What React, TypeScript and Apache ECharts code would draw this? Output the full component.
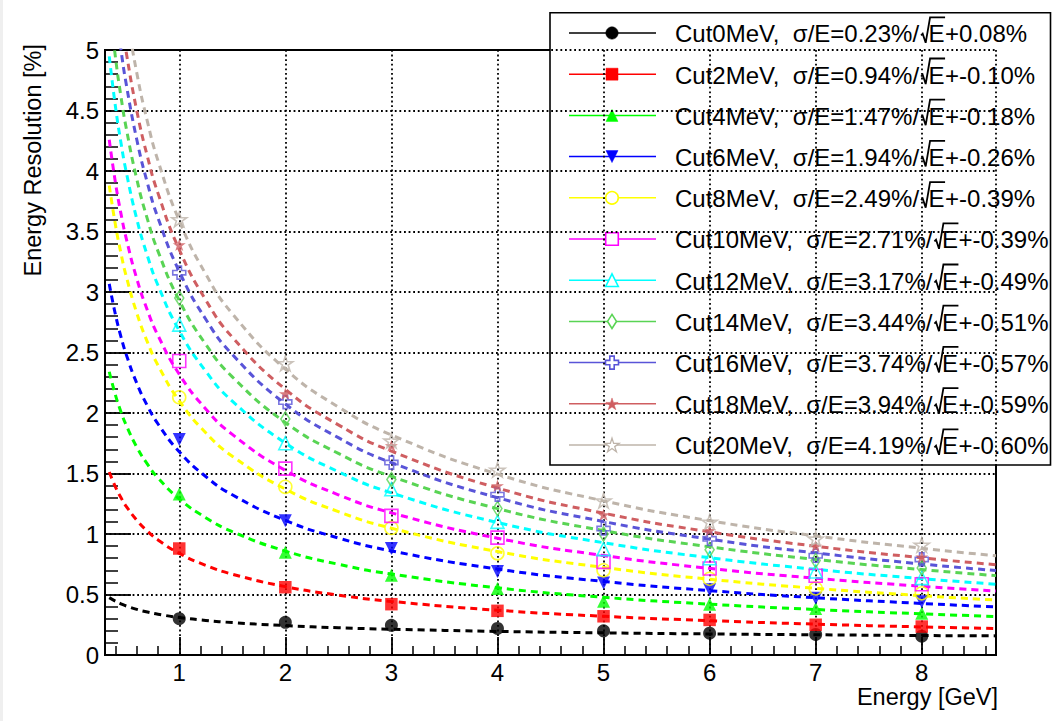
import React, { useEffect, useRef } from 'react';
import * as echarts from 'echarts';

const FONT = '"Liberation Sans", Arial, Helvetica, sans-serif';

// ---- data ----
const energies = [1, 2, 3, 4, 5, 6, 7, 8];
const cutNames = ['Cut0MeV', 'Cut2MeV', 'Cut4MeV', 'Cut6MeV', 'Cut8MeV', 'Cut10MeV', 'Cut12MeV', 'Cut14MeV', 'Cut16MeV', 'Cut18MeV', 'Cut20MeV'];
const fitA = ['0.23', '0.94', '1.47', '1.94', '2.49', '2.71', '3.17', '3.44', '3.74', '3.94', '4.19'];
const fitB = ['+0.08', '+-0.10', '+-0.18', '+-0.26', '+-0.39', '+-0.39', '+-0.49', '+-0.51', '+-0.57', '+-0.59', '+-0.60'];

const resCut0 = [0.30, 0.27, 0.245, 0.22, 0.20, 0.18, 0.17, 0.155];
const resCut2 = [0.88, 0.56, 0.42, 0.365, 0.32, 0.29, 0.25, 0.235];
const resCut4 = [1.33, 0.85, 0.66, 0.55, 0.445, 0.42, 0.385, 0.345];
const resCut6 = [1.78, 1.11, 0.88, 0.69, 0.595, 0.54, 0.47, 0.44];
const resCut8 = [2.13, 1.39, 1.05, 0.84, 0.70, 0.63, 0.55, 0.51];
const resCut10 = [2.43, 1.54, 1.15, 0.97, 0.77, 0.715, 0.655, 0.585];
const resCut12 = [2.73, 1.75, 1.37, 1.10, 0.875, 0.80, 0.69, 0.635];
const resCut14 = [2.95, 1.95, 1.45, 1.21, 1.00, 0.87, 0.78, 0.72];
const resCut16 = [3.16, 2.09, 1.59, 1.325, 1.045, 0.96, 0.82, 0.79];
const resCut18 = [3.39, 2.16, 1.73, 1.40, 1.16, 1.03, 0.90, 0.81];
const resCut20 = [3.60, 2.41, 1.77, 1.53, 1.275, 1.10, 0.96, 0.91];

// fit curves
const fitX = [0.34, 0.4, 0.45, 0.5, 0.6, 0.7, 0.8, 1, 1.25, 1.5, 2, 2.5, 3, 4, 5, 6, 7, 8, 8.7];
const fitCut0 = [0.474, 0.444, 0.423, 0.405, 0.377, 0.355, 0.337, 0.310, 0.286, 0.268, 0.243, 0.225, 0.213, 0.195, 0.183, 0.174, 0.167, 0.161, 0.158];
const fitCut2 = [1.512, 1.386, 1.301, 1.229, 1.114, 1.024, 0.951, 0.840, 0.741, 0.668, 0.565, 0.495, 0.443, 0.370, 0.320, 0.284, 0.255, 0.232, 0.219];
const fitCut4 = [2.341, 2.144, 2.011, 1.899, 1.718, 1.577, 1.463, 1.290, 1.135, 1.020, 0.859, 0.750, 0.669, 0.555, 0.477, 0.420, 0.376, 0.340, 0.318];
const fitCut6 = [3.067, 2.807, 2.632, 2.484, 2.245, 2.059, 1.909, 1.680, 1.475, 1.324, 1.112, 0.967, 0.860, 0.710, 0.608, 0.532, 0.473, 0.426, 0.398];
const fitCut8 = [3.880, 3.547, 3.322, 3.131, 2.825, 2.586, 2.394, 2.100, 1.837, 1.643, 1.371, 1.185, 1.048, 0.855, 0.724, 0.626, 0.551, 0.490, 0.454];
const fitCut10 = [4.258, 3.895, 3.650, 3.443, 3.109, 2.849, 2.640, 2.320, 2.034, 1.823, 1.526, 1.324, 1.175, 0.965, 0.822, 0.716, 0.634, 0.568, 0.529];
const fitCut12 = [4.947, 4.522, 4.236, 3.993, 3.602, 3.299, 3.054, 2.680, 2.345, 2.098, 1.752, 1.515, 1.340, 1.095, 0.928, 0.804, 0.708, 0.631, 0.585];
const fitCut14 = [5.390, 4.929, 4.618, 4.355, 3.931, 3.602, 3.336, 2.930, 2.567, 2.299, 1.922, 1.666, 1.476, 1.210, 1.028, 0.894, 0.790, 0.706, 0.656];
const fitCut16 = [5.844, 5.343, 5.005, 4.719, 4.258, 3.900, 3.611, 3.170, 2.775, 2.484, 2.075, 1.796, 1.590, 1.300, 1.103, 0.957, 0.844, 0.752, 0.698];
const fitCut18 = [6.167, 5.640, 5.283, 4.982, 4.497, 4.119, 3.815, 3.350, 2.934, 2.627, 2.196, 1.902, 1.685, 1.380, 1.172, 1.018, 0.899, 0.803, 0.746];
const fitCut20 = [6.586, 6.025, 5.646, 5.326, 4.809, 4.408, 4.084, 3.590, 3.148, 2.821, 2.363, 2.050, 1.819, 1.495, 1.274, 1.110, 0.984, 0.882, 0.820];

const pointSets = [resCut0, resCut2, resCut4, resCut6, resCut8, resCut10, resCut12, resCut14, resCut16, resCut18, resCut20];
const fitSets = [fitCut0, fitCut2, fitCut4, fitCut6, fitCut8, fitCut10, fitCut12, fitCut14, fitCut16, fitCut18, fitCut20];

// ---- styles ----
const seriesColors = ['#000000', '#ff0000', '#00ff00', '#0000ff', '#ffff00', '#ff00ff', '#00ffff', '#59d454', '#5954d8', '#cf5e61', '#beb4aa'];
const markerKinds = ['circle', 'rect', 'triUp', 'triDown', 'circleO', 'rectO', 'triUpO', 'diamondO', 'crossO', 'starF', 'starO'];

const TRI_DOWN = 'path://M0,0L10,0L5,10Z';
const CROSS = 'path://M3.3,0L6.7,0L6.7,3.3L10,3.3L10,6.7L6.7,6.7L6.7,10L3.3,10L3.3,6.7L0,6.7L0,3.3L3.3,3.3Z';
const STAR = 'path://M50,0L61.17,34.63L97.55,34.55L68.07,55.87L79.39,90.45L50,69L20.61,90.45L31.93,55.87L2.45,34.55L38.83,34.63Z';

function symbolFor(kind: string): { symbol: string; size: any; open: boolean } {
  switch (kind) {
    case 'circle': return { symbol: 'circle', size: 13, open: false };
    case 'rect': return { symbol: 'rect', size: 12.5, open: false };
    case 'triUp': return { symbol: 'triangle', size: 13, open: false };
    case 'triDown': return { symbol: TRI_DOWN, size: 13, open: false };
    case 'circleO': return { symbol: 'circle', size: 13, open: true };
    case 'rectO': return { symbol: 'rect', size: 13, open: true };
    case 'triUpO': return { symbol: 'triangle', size: 13, open: true };
    case 'diamondO': return { symbol: 'diamond', size: [9, 14], open: true };
    case 'crossO': return { symbol: CROSS, size: 13, open: true };
    case 'starF': return { symbol: STAR, size: 13, open: false };
    default: return { symbol: STAR, size: 15, open: true };
  }
}

// normalized polygon templates for legend icons
const POLY: Record<string, number[][]> = {
  triUp: [[0, -0.5], [0.5, 0.5], [-0.5, 0.5]],
  triDown: [[-0.5, -0.5], [0.5, -0.5], [0, 0.5]],
  diamond: [[0, -0.5], [0.32, 0], [0, 0.5], [-0.32, 0]],
  cross: [[-0.17, -0.5], [0.17, -0.5], [0.17, -0.17], [0.5, -0.17], [0.5, 0.17], [0.17, 0.17], [0.17, 0.5], [-0.17, 0.5], [-0.17, 0.17], [-0.5, 0.17], [-0.5, -0.17], [-0.17, -0.17]],
  star: [[0, -0.452], [0.112, -0.106], [0.476, -0.107], [0.181, 0.107], [0.294, 0.452], [0, 0.238], [-0.294, 0.452], [-0.181, 0.107], [-0.476, -0.107], [-0.112, -0.106]],
};

function polyAt(name: string, cx: number, cy: number, size: number) {
  return POLY[name].map(([u, v]) => [cx + u * size, cy + v * size]);
}

function legendMarker(kind: string, cx: number, cy: number, c: string): any {
  const filled = { fill: c, stroke: c, lineWidth: 0.5 };
  const open = { fill: '#ffffff', stroke: c, lineWidth: 1.6 };
  switch (kind) {
    case 'circle': return { type: 'circle', shape: { cx, cy, r: 6.2 }, style: filled };
    case 'rect': return { type: 'rect', shape: { x: cx - 6, y: cy - 6, width: 12, height: 12 }, style: filled };
    case 'triUp': return { type: 'polygon', shape: { points: polyAt('triUp', cx, cy, 12) }, style: filled };
    case 'triDown': return { type: 'polygon', shape: { points: polyAt('triDown', cx, cy, 12) }, style: filled };
    case 'circleO': return { type: 'circle', shape: { cx, cy, r: 6.3 }, style: open };
    case 'rectO': return { type: 'rect', shape: { x: cx - 6.3, y: cy - 6.3, width: 12.6, height: 12.6 }, style: open };
    case 'triUpO': return { type: 'polygon', shape: { points: polyAt('triUp', cx, cy, 12.6) }, style: open };
    case 'diamondO': return { type: 'polygon', shape: { points: polyAt('diamond', cx, cy, 14) }, style: open };
    case 'crossO': return { type: 'polygon', shape: { points: polyAt('cross', cx, cy, 13) }, style: open };
    case 'starF': return { type: 'polygon', shape: { points: polyAt('star', cx, cy, 13) }, style: filled };
    default: return { type: 'polygon', shape: { points: polyAt('star', cx, cy, 15) }, style: { fill: '#ffffff', stroke: c, lineWidth: 1.3 } };
  }
}

const LEG_FONT_SIZE = 24;
const LEG_FONT = `${LEG_FONT_SIZE}px ${FONT}`;

function measure(ctx: CanvasRenderingContext2D | null, s: string): number {
  if (!ctx) return s.length * LEG_FONT_SIZE * 0.55;
  return ctx.measureText(s).width;
}

function buildLegend(): any[] {
  const canvas = document.createElement('canvas');
  const ctx = canvas.getContext('2d');
  if (ctx) ctx.font = LEG_FONT;
  const els: any[] = [];
  els.push({
    type: 'rect',
    shape: { x: 550, y: 12.7, width: 500.5, height: 452.3 },
    style: { fill: '#ffffff', stroke: '#000000', lineWidth: 1.6 },
  });
  cutNames.forEach((name, i) => {
    const c = seriesColors[i];
    const cy = 33 + i * 41.2;
    const yc = cy + 0.8;
    els.push({ type: 'line', shape: { x1: 569, y1: cy, x2: 656, y2: cy }, style: { stroke: c, lineWidth: 1.5 } });
    els.push(legendMarker(markerKinds[i], 612, cy, c));
    const prefix = `${name},  σ/E=${fitA[i]}%/`;
    const suffix = `${fitB[i]}%`;
    const p = 675 + measure(ctx, prefix);
    const wE = measure(ctx, 'E');
    const ex = p + 9.5;
    els.push({ type: 'text', style: { text: prefix, x: 675, y: yc, font: LEG_FONT, fill: '#000', align: 'left', verticalAlign: 'middle' } });
    els.push({ type: 'text', style: { text: 'E', x: ex, y: yc, font: LEG_FONT, fill: '#000', align: 'left', verticalAlign: 'middle' } });
    els.push({ type: 'text', style: { text: suffix, x: ex + wE + 0.5, y: yc, font: LEG_FONT, fill: '#000', align: 'left', verticalAlign: 'middle' } });
    els.push({
      type: 'polyline',
      shape: { points: [[p + 2, yc + 1.5], [p + 3.6, yc - 0.2], [p + 6.6, yc + 9], [p + 11, yc - 16.5], [ex + wE + 0.5, yc - 16.5]] },
      style: { stroke: '#000', lineWidth: 1.8, fill: null },
    });
  });
  return els;
}

const tickRich = { t: { fontSize: 24, fontFamily: FONT, color: '#000', lineHeight: 26 } };

export default function App() {
  const ref = useRef<HTMLDivElement>(null);
  useEffect(() => {
    if (!ref.current) return;
    const chart = echarts.init(ref.current, null, { renderer: 'svg' });

    const fitSeries = fitSets.map((ys, i) => ({
      type: 'line',
      name: cutNames[i] + ' fit',
      data: fitX.map((x, j) => [x, ys[j]]),
      smooth: true,
      symbol: 'none',
      showSymbol: false,
      clip: true,
      silent: true,
      z: 2,
      lineStyle: { color: seriesColors[i], width: 3, type: [7, 5] },
    }));

    const pointSeries = pointSets.map((ys, i) => {
      const s = symbolFor(markerKinds[i]);
      const c = seriesColors[i];
      return {
        type: 'scatter',
        name: cutNames[i],
        data: energies.map((e, j) => [e, ys[j]]),
        symbol: s.symbol,
        symbolSize: s.size,
        symbolKeepAspect: true,
        clip: true,
        z: 3,
        itemStyle: s.open
          ? { color: 'transparent', borderColor: c, borderWidth: 1.6 }
          : { color: c, borderColor: c, borderWidth: 0 },
      };
    });

    const dotted = { color: '#000', width: 1.8, type: [1.8, 2.8] };

    chart.setOption({
      animation: false,
      backgroundColor: '#ffffff',
      textStyle: { fontFamily: FONT, fontSize: 24, color: '#000' },
      grid: {
        left: 105, right: 68, top: 50, bottom: 66,
        show: true, borderColor: '#000', borderWidth: 2, backgroundColor: '#ffffff',
      },
      xAxis: {
        type: 'value',
        min: 0.3,
        max: 8.7,
        splitNumber: 8,
        minInterval: 1,
        maxInterval: 1,
        axisLine: { show: true, onZero: false, lineStyle: { color: '#000', width: 2 } },
        axisTick: { show: true, inside: true, length: 18, lineStyle: { color: '#000', width: 1.8 } },
        minorTick: { show: true, splitNumber: 5, length: 9, lineStyle: { color: '#000', width: 1.5 } },
        axisLabel: {
          color: '#000',
          fontSize: 24,
          fontFamily: FONT,
          margin: 4,
          rich: tickRich,
          formatter: (v: number) => (Math.abs(v - Math.round(v)) < 1e-6 ? `{t|${Math.round(v)}}` : ''),
        },
        splitLine: { show: true, lineStyle: dotted },
      },
      yAxis: {
        type: 'value',
        min: 0,
        max: 5,
        interval: 0.5,
        axisLine: { show: true, onZero: false, lineStyle: { color: '#000', width: 2 } },
        axisTick: { show: true, inside: true, length: 26, lineStyle: { color: '#000', width: 1.8 } },
        minorTick: { show: true, splitNumber: 5, length: 13, lineStyle: { color: '#000', width: 1.5 } },
        axisLabel: {
          color: '#000', fontSize: 24, fontFamily: FONT, margin: 6,
          rich: tickRich,
          formatter: (v: number) => `{t|${Number(v.toFixed(1))}}`,
        },
        splitLine: { show: true, lineStyle: dotted },
      },
      series: [...fitSeries, ...pointSeries],
      graphic: [
        { type: 'rect', z: 0, shape: { x: 0, y: 0, width: 3, height: 721 }, style: { fill: '#efefef' } },
        {
          type: 'text', z: 100,
          x: 33, y: 44, rotation: Math.PI / 2,
          style: { text: 'Energy Resolution [%]', font: `23.5px ${FONT}`, fill: '#000', align: 'right', verticalAlign: 'middle' },
        },
        {
          type: 'text', z: 100,
          style: { text: 'Energy [GeV]', x: 998, y: 697, font: `23.5px ${FONT}`, fill: '#000', align: 'right', verticalAlign: 'middle' },
        },
        { type: 'group', z: 100, children: buildLegend() },
      ],
    });
    return () => chart.dispose();
  }, []);
  return <div ref={ref} style={{ position: 'absolute', left: 0, top: 0, width: 1064, height: 721 }} />;
}
